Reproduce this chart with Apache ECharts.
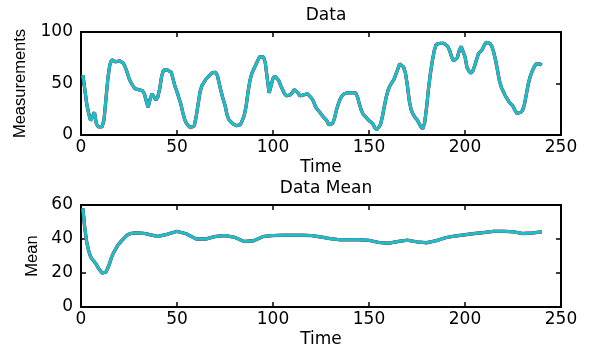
<!DOCTYPE html>
<html>
<head>
<meta charset="utf-8">
<script src="https://cdn.jsdelivr.net/npm/echarts@6/dist/echarts.min.js"></script>
<style>
html,body{margin:0;padding:0;background:#fff;}
#chart{width:589px;height:350px;}
</style>
</head>
<body>
<div id="chart"></div>
<script>
// ---- data ----
const dataTime = [];
for (let t = 1; t <= 240; t++) dataTime.push(t);
const dataValues = [
58,44,30,21,14,13,22,11,8,7,8,15,35,55,68,73,74,71,70,72,
72,70,66,61,55,51,48,45,44,44,44,43,40,33,27,35,40,37,34,37,
45,57,63,63,63,63,61,54,47,42,36,30,22,15,11,9,7,6,9,18,
30,42,48,51,54,56,58,60,61,61,58,50,42,35,29,20,15,13,11,10,
9,8,10,14,19,28,42,53,60,64,68,72,76,77,76,70,55,41,48,55,
57,56,53,48,44,40,38,38,39,41,44,44,41,38,38,39,39,40,39,36,
33,28,25,23,22,18,16,14,10,9,11,16,24,30,35,38,40,41,41,41,
41,42,41,37,30,24,20,18,16,14,13,11,7,5,6,10,18,28,37,44,
48,51,54,59,64,69,69,66,60,48,33,24,20,17,15,14,8,6,12,27,
45,60,72,82,88,89,89,88,89,88,86,82,76,72,72,75,82,86,85,76,
66,62,60,62,67,73,79,81,83,87,90,90,89,86,80,72,62,52,46,42,
38,35,32,30,28,24,21,21,22,24,30,40,50,57,62,66,69,70,69,68
];
const meanTime = [1,2,3,4,5,6,7,8,9,10,11,12,13,14,15,16,17,18,19,20,22,24,26,28,30,33,36,40,45,50,55,60,65,70,75,80,85,90,95,100,105,110,115,120,125,130,135,140,145,150,155,160,165,170,175,180,185,190,195,200,205,210,215,220,225,230,235,240];
const meanValues = [58,46,38,33,29.5,28,26.5,25,23,21.5,20,19,20.5,23,26,29.5,32,34,36,37.5,40,42.3,43.3,43.5,43.5,43.3,42.5,41.5,42.8,44.5,43,40,40,41.5,42,41,38.5,39,41.5,42,42.2,42.2,42.2,42,41.2,40.2,39.5,39.5,39.5,39.2,38,37.5,38.5,39.3,38.3,37.8,39,40.8,41.8,42.5,43.2,43.8,44.5,44.5,44.3,43.2,43.5,44.2];
const xTicks = {min: 0, max: 250, interval: 50};
const topY = {min: 0, max: 100, interval: 50};
const botY = {min: 0, max: 60, interval: 20};
const titles = ['Data', 'Data Mean'];
const yNames = ['Measurements', 'Mean'];
const xName = 'Time';

// ---- chart ----
const pair = (ts, vs) => ts.map((t, i) => [t, vs[i]]);
const hFont = 'DejaVu Sans';
const vFont = 'Liberation Sans';
const lineAx = {show: true, onZero: false, lineStyle: {color: '#000', width: 2}};
const tickIn = {show: true, inside: true, length: 5, lineStyle: {color: '#000', width: 1.5}};

function xAx(gi, main) {
  return Object.assign({
    type: 'value', gridIndex: gi, min: xTicks.min, max: xTicks.max, interval: xTicks.interval,
    position: main ? 'bottom' : 'top',
    axisLine: lineAx, axisTick: tickIn, splitLine: {show: false},
    axisLabel: {show: main, color: '#000', fontFamily: hFont, fontSize: 17, margin: 4}
  }, main ? {name: xName, nameLocation: 'middle', nameGap: 24,
    nameTextStyle: {color: '#000', fontFamily: hFont, fontSize: 17}} : {});
}
function yAx(gi, main, rng, name, gap) {
  return Object.assign({
    type: 'value', gridIndex: gi, min: rng.min, max: rng.max, interval: rng.interval,
    position: main ? 'left' : 'right',
    axisLine: lineAx, axisTick: tickIn, splitLine: {show: false},
    axisLabel: {show: main, color: '#000', fontFamily: hFont, fontSize: 17, margin: 8}
  }, main ? {name: name, nameLocation: 'middle', nameGap: gap, nameRotate: 90,
    nameTextStyle: {color: '#000', fontFamily: vFont, fontSize: 16.5}} : {});
}
function ser(xi, yi, d, color, w, z) {
  return {type: 'line', xAxisIndex: xi, yAxisIndex: yi, data: d, showSymbol: false,
    lineStyle: {color: color, width: w}, itemStyle: {color: color}, z: z, animation: false};
}

const chart = echarts.init(document.getElementById('chart'), null, {renderer: 'canvas'});
chart.setOption({
  backgroundColor: '#fff',
  animation: false,
  title: [
    {text: titles[0], left: 321, top: 2, textAlign: 'center',
     textStyle: {color: '#000', fontFamily: hFont, fontSize: 17, fontWeight: 'normal'}},
    {text: titles[1], left: 321, top: 175, textAlign: 'center',
     textStyle: {color: '#000', fontFamily: hFont, fontSize: 17, fontWeight: 'normal'}}
  ],
  grid: [
    {left: 81, top: 32, width: 480, height: 103},
    {left: 81, top: 205, width: 480, height: 102}
  ],
  xAxis: [xAx(0, true), xAx(0, false), xAx(1, true), xAx(1, false)],
  yAxis: [yAx(0, true, topY, yNames[0], 52), yAx(0, false, topY), yAx(1, true, botY, yNames[1], 40), yAx(1, false, botY)],
  series: [
    ser(0, 0, pair(dataTime, dataValues), '#e03030', 3.4, 2),
    ser(0, 0, pair(dataTime, dataValues), '#3040d0', 3, 3),
    ser(0, 0, pair(dataTime, dataValues), '#1fbfc0', 3, 4),
    ser(2, 2, pair(meanTime, meanValues), '#e03030', 3.4, 2),
    ser(2, 2, pair(meanTime, meanValues), '#3040d0', 3, 3),
    ser(2, 2, pair(meanTime, meanValues), '#1fbfc0', 3, 4)
  ]
});
</script>
</body>
</html>
